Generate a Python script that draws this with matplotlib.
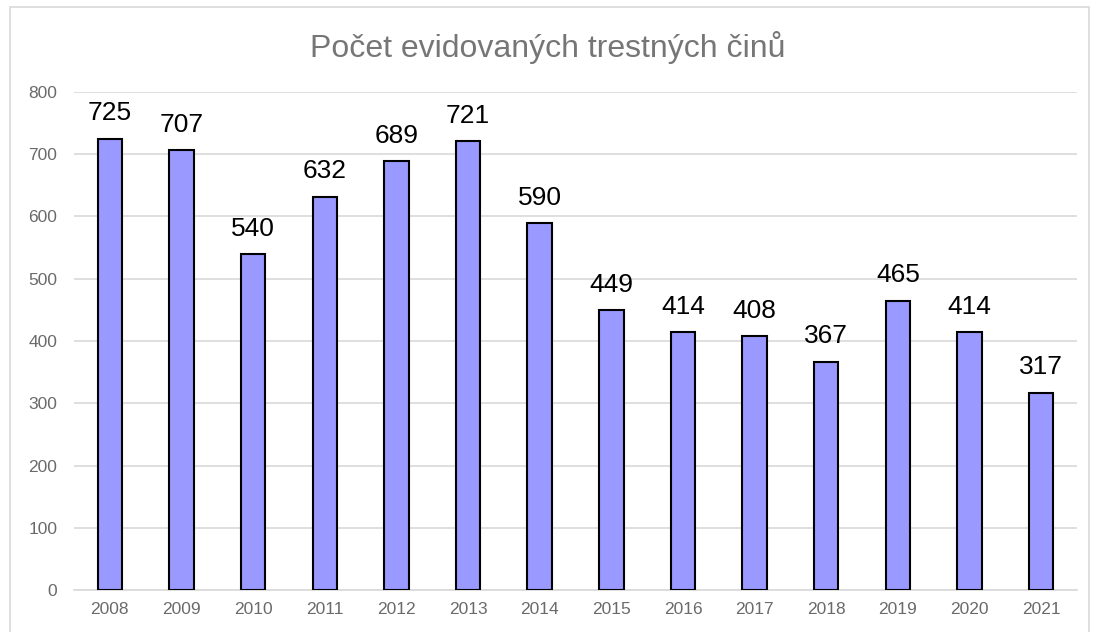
import matplotlib
matplotlib.use("Agg")
import matplotlib.pyplot as plt
from matplotlib.patches import Rectangle

years = ["2008", "2009", "2010", "2011", "2012", "2013", "2014", "2015", "2016", "2017", "2018", "2019", "2020", "2021"]
values = [725, 707, 540, 632, 689, 721, 590, 449, 414, 408, 367, 465, 414, 317]
yticks = [0, 100, 200, 300, 400, 500, 600, 700, 800]
title = "Počet evidovaných trestných činů"

plt.rcParams['font.family'] = ['Liberation Sans', 'DejaVu Sans']

W, H = 1095, 632
fig = plt.figure(figsize=(W / 100, H / 100), dpi=100)
fig.patch.set_facecolor("white")

# outer border
fig.add_artist(Rectangle((10 / W, -0.05), (1089 - 10) / W, 1.05 - 7 / H,
                         transform=fig.transFigure, fill=False,
                         edgecolor="#d9d9d9", linewidth=1.2))

left, right = 74, 1077
top, bottom = 92, 590
ax = fig.add_axes([left / W, 1 - bottom / H, (right - left) / W, (bottom - top) / H])

x = list(range(len(years)))
ax.bar(x, values, width=0.34, color="#9999ff", edgecolor="black", linewidth=1.5, zorder=3)
for xi, v in zip(x, values):
    ax.annotate(str(v), (xi, v), xytext=(0, 9.5), textcoords="offset points",
                ha="center", va="bottom", fontsize=19, color="black")

ax.set_xlim(-0.5, len(years) - 0.5)
ax.set_ylim(0, 800)
ax.set_yticks(yticks)
ax.set_yticklabels([str(t) for t in yticks])
ax.set_xticks(x)
ax.set_xticklabels(years)
ax.tick_params(axis="both", length=0, labelsize=12.5, colors="#6a6a6a")
ax.tick_params(axis="y", pad=12)
ax.tick_params(axis="x", pad=9)
ax.grid(axis="y", color="#d9d9d9", linewidth=1.2, zorder=0)
for s in ["top", "right", "left"]:
    ax.spines[s].set_visible(False)
ax.spines["bottom"].set_color("#d9d9d9")
ax.spines["bottom"].set_linewidth(1.2)

fig.text(0.5, 1 - 47 / H, title, ha="center", va="center", fontsize=23, color="#767676")

fig.savefig("out.png", dpi=100)
